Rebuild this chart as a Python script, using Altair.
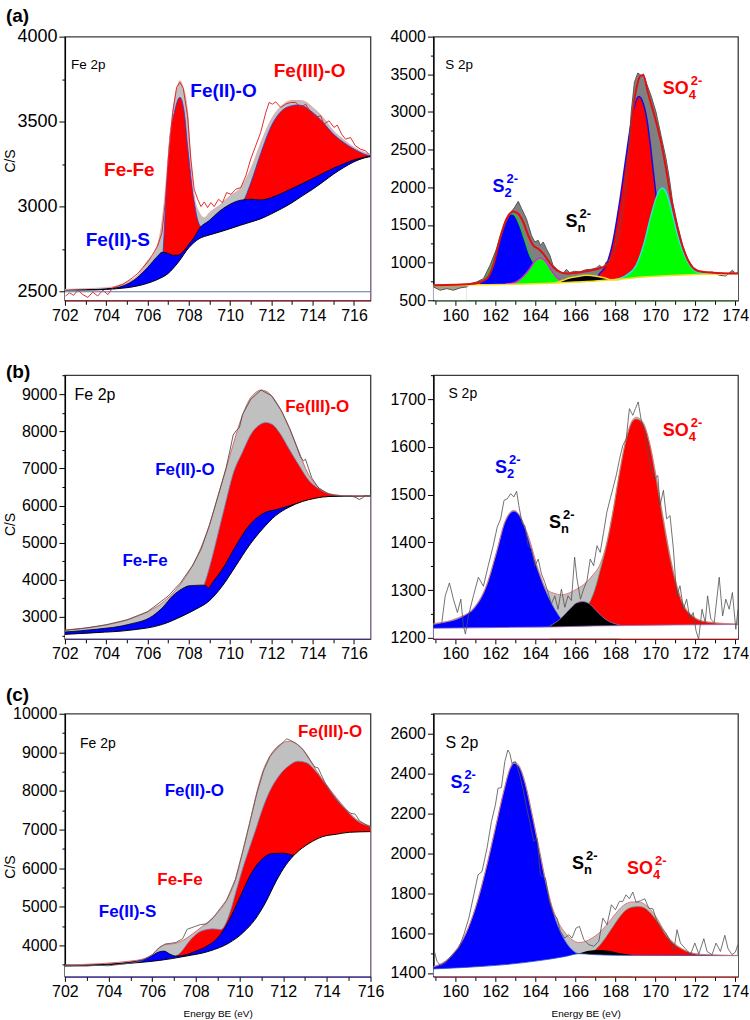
import altair as alt
import pandas as pd

FONT = "Liberation Sans"
RED = "#ff0000"
BLUE = "#0000ff"
GREEN = "#00ff00"
LIGHT_GREY = "#c0c0c0"
DARK_GREY = "#808080"

# ---------------------------------------------------------------- (a) Fe 2p
A_FE_RAW = [(702.03, 2475), (702.23, 2494), (702.42, 2479), (702.63, 2510), (702.87, 2483),
            (703.11, 2467), (703.35, 2498), (703.59, 2475), (703.84, 2510), (704.08, 2483),
            (704.32, 2524), (704.56, 2534), (704.8, 2543), (705.04, 2563), (705.28, 2583),
            (705.53, 2608), (705.77, 2642), (706.01, 2675), (706.25, 2720), (706.49, 2769),
            (706.7, 2848), (706.86, 3024), (707.02, 3299), (707.22, 3554), (707.41, 3702),
            (707.57, 3731), (707.73, 3696), (707.94, 3535), (708.1, 3280), (708.26, 3103),
            (708.43, 3044), (708.59, 3001), (708.75, 3028), (708.91, 2995), (709.07, 3024),
            (709.23, 3001), (709.44, 3044), (709.63, 3024), (709.83, 3083), (710.04, 3073),
            (710.28, 3103), (710.52, 3113), (710.76, 3181), (711.0, 3280), (711.24, 3358),
            (711.48, 3437), (711.73, 3554), (711.89, 3613), (712.05, 3603), (712.21, 3617),
            (712.45, 3584), (712.69, 3603), (712.93, 3613), (713.18, 3613), (713.42, 3584),
            (713.66, 3603), (713.9, 3554), (714.14, 3525), (714.38, 3535), (714.54, 3486),
            (714.79, 3505), (715.03, 3466), (715.19, 3480), (715.4, 3427), (715.59, 3397),
            (715.83, 3407), (716.07, 3358), (716.32, 3338), (716.56, 3329), (716.72, 3309)]
A_FE_ENV = [(702.0, 2514), (703.0, 2518), (704.0, 2524), (704.5, 2534), (705.0, 2557),
            (705.5, 2593), (705.93, 2671), (706.41, 2750), (706.65, 2867), (706.81, 3024),
            (706.98, 3260), (707.22, 3554), (707.46, 3711), (707.57, 3741), (707.7, 3711),
            (707.94, 3554), (708.1, 3260), (708.26, 3064), (708.51, 2965), (708.75, 2935),
            (709.0, 2965), (709.5, 3010), (710.0, 3064), (710.5, 3110), (711.0, 3221),
            (711.5, 3378), (712.0, 3515), (712.5, 3594), (713.0, 3625), (713.5, 3623),
            (714.0, 3584), (714.5, 3525), (715.0, 3446), (715.5, 3394), (716.0, 3348),
            (716.5, 3319), (716.8, 3307)]
A_FE_RED = [(702.0, 2505), (706.0, 2540), (706.6, 2600), (706.75, 2730), (706.9, 3064),
            (707.06, 3378), (707.3, 3554), (707.57, 3643), (707.78, 3554), (707.94, 3358),
            (708.18, 3103), (708.42, 2926), (708.6, 2880), (709.0, 2860), (709.5, 2880),
            (710.0, 2930), (710.5, 3000), (710.75, 3060), (711.0, 3140), (711.5, 3319),
            (712.0, 3476), (712.5, 3564), (713.0, 3594), (713.25, 3598), (713.5, 3594),
            (714.0, 3554), (714.5, 3496), (715.0, 3427), (715.5, 3378), (716.0, 3339),
            (716.5, 3309), (716.8, 3299)]
A_FE_BLUE = [(702.0, 2512), (703.0, 2513), (704.0, 2518), (704.5, 2524), (705.0, 2544),
             (705.5, 2583), (706.0, 2642), (706.5, 2711), (706.7, 2732), (707.0, 2726),
             (707.25, 2714), (707.5, 2716), (707.75, 2740), (708.0, 2779), (708.25, 2818),
             (708.5, 2870), (709.0, 2920), (709.5, 2975), (710.0, 3015), (710.5, 3038),
             (711.0, 3044), (711.5, 3040), (712.0, 3054), (712.5, 3079), (713.0, 3107),
             (713.5, 3136), (714.0, 3166), (714.5, 3197), (715.0, 3226), (715.5, 3252),
             (716.0, 3276), (716.5, 3291), (716.8, 3299)]
A_FE_BG = [(702.0, 2510), (703.0, 2510), (704.0, 2514), (705.0, 2524), (705.5, 2534),
           (706.0, 2550), (706.5, 2573), (707.0, 2608), (707.5, 2675), (708.0, 2759),
           (708.5, 2812), (709.0, 2834), (709.5, 2852), (710.0, 2871), (710.5, 2891),
           (711.0, 2910), (711.5, 2930), (712.0, 2958), (712.5, 2989), (713.0, 3024),
           (713.5, 3064), (714.0, 3103), (714.5, 3146), (715.0, 3191), (715.5, 3230),
           (716.0, 3264), (716.5, 3287), (716.8, 3295)]
A_FE_REF = [2500]
A_FE_LABELS = [("Fe(III)-O", 713.85, 3760, RED), ("Fe(II)-O", 709.68, 3643, BLUE),
               ("Fe-Fe", 705.12, 3181, RED), ("Fe(II)-S", 704.56, 2769, BLUE)]

# ---------------------------------------------------------------- (a) S 2p
A_S_RAW = [(158.9, 677), (159.24, 633), (159.57, 655), (159.9, 633), (160.23, 664),
           (160.56, 677), (160.73, 721), (161.06, 743), (161.4, 787), (161.73, 964),
           (162.06, 1185), (162.39, 1450), (162.72, 1649), (162.97, 1737), (163.14, 1813),
           (163.31, 1716), (163.55, 1583), (163.8, 1362), (163.97, 1274), (164.14, 1296),
           (164.25, 1229), (164.39, 1274), (164.55, 1185), (164.72, 1097), (164.88, 964),
           (165.13, 898), (165.38, 854), (165.55, 911), (165.71, 867), (165.96, 885),
           (166.21, 876), (166.54, 907), (166.79, 911), (167.04, 929), (167.21, 964),
           (167.38, 920), (167.54, 1008), (167.87, 1075), (168.04, 1273), (168.37, 1715),
           (168.62, 2334), (168.79, 2997), (168.95, 3395), (169.12, 3518), (169.29, 3483),
           (169.4, 3505), (169.53, 3395), (169.78, 3218), (170.03, 2997), (170.28, 2688),
           (170.53, 2379), (170.7, 2113), (170.86, 1804), (171.11, 1494), (171.36, 1229),
           (171.61, 1053), (171.86, 942), (172.19, 885), (172.52, 867), (172.86, 876),
           (173.19, 832), (173.52, 823), (173.85, 898), (174.02, 854), (174.13, 876)]
A_S_ENV = [(158.9, 701), (160.9, 721), (161.56, 787), (161.89, 964), (162.23, 1318),
           (162.56, 1583), (162.89, 1680), (163.14, 1649), (163.39, 1539), (163.64, 1362),
           (163.89, 1229), (164.14, 1185), (164.39, 1119), (164.63, 1030), (164.88, 942),
           (165.22, 876), (165.55, 854), (166.05, 867), (166.54, 885), (167.04, 911),
           (167.54, 964), (168.04, 1185), (168.37, 1627), (168.62, 2201), (168.87, 2997),
           (169.12, 3395), (169.29, 3483), (169.4, 3483), (169.62, 3262), (169.95, 2953),
           (170.28, 2599), (170.53, 2246), (170.78, 1848), (171.11, 1450), (171.45, 1141),
           (171.78, 964), (172.19, 885), (172.86, 867), (174.13, 856)]
A_S_S2 = [(158.9, 700), (160.9, 709), (161.56, 809), (161.89, 1008), (162.23, 1340),
          (162.56, 1583), (162.81, 1649), (162.97, 1627), (163.22, 1494), (163.47, 1296),
          (163.72, 1097), (163.89, 1008), (164.22, 876), (164.63, 787), (165.22, 743),
          (166.0, 742)]
A_S_S2B = [(162.5, 713), (163.0, 740), (163.4, 820), (163.72, 920), (163.97, 1017),
           (164.22, 1061), (164.47, 1030), (164.72, 929), (165.05, 809), (165.47, 743),
           (166.0, 742)]
A_S_SO4 = [(166.5, 750), (167.0, 770), (167.21, 854), (167.54, 964), (167.87, 1273),
           (168.21, 1804), (168.54, 2422), (168.79, 2864), (169.04, 3151), (169.17, 3204),
           (169.37, 3129), (169.57, 2908), (169.73, 2599), (169.9, 2201), (170.07, 1804),
           (170.23, 1450), (170.45, 1185), (170.7, 1008), (171.03, 885), (171.53, 832),
           (172.0, 840)]
A_S_SO4B = [(168.0, 776), (168.54, 832), (169.04, 964), (169.45, 1273), (169.78, 1627),
            (170.12, 1914), (170.33, 1989), (170.53, 1936), (170.78, 1715), (171.11, 1362),
            (171.45, 1097), (171.78, 942), (172.19, 867), (172.86, 848), (174.13, 855)]
A_S_SN = [(165.0, 728), (165.38, 765), (165.7, 795), (166.05, 812), (166.54, 831),
          (167.04, 820), (167.54, 790), (167.87, 768), (168.2, 770)]
A_S_BASE = [(158.9, 700), (161.0, 706), (163.0, 712), (164.0, 718), (165.0, 728),
            (166.0, 742), (167.0, 755), (168.0, 775), (168.5, 787), (169.0, 800),
            (170.0, 818), (171.0, 833), (172.0, 843), (173.0, 850), (174.13, 855)]
A_S_LOW_END = 160.56   # raw counts fall under the baseline left of this energy

# ---------------------------------------------------------------- (b) Fe 2p
B_FE_RAW = [(702.0, 2640), (703.0, 2700), (704.0, 2790), (705.0, 2920), (706.0, 3140),
            (707.0, 3560), (707.6, 3920), (708.2, 4400), (708.6, 4830), (709.0, 5470),
            (709.5, 6420), (709.8, 7000), (710.0, 7500), (710.15, 7900), (710.3, 8020),
            (710.45, 8100), (710.6, 8450), (711.0, 8860), (711.5, 9110), (712.0, 8960),
            (712.5, 8540), (712.9, 8060), (713.2, 7620), (713.4, 7320), (713.55, 7200),
            (713.65, 7250), (713.8, 7000), (713.95, 6750), (714.1, 6620), (714.3, 6470),
            (714.5, 6400), (714.8, 6300), (715.1, 6270), (715.5, 6255), (715.9, 6250),
            (716.1, 6215), (716.25, 6160), (716.4, 6200), (716.55, 6270), (716.8, 6250)]
B_FE_ENV = [(702.0, 2649), (703.51, 2739), (705.12, 2937), (706.09, 3162), (706.73, 3387),
            (707.54, 3838), (708.34, 4559), (708.99, 5460), (709.47, 6360), (709.95, 7261),
            (710.28, 7892), (710.6, 8432), (710.92, 8838), (711.24, 9045), (711.48, 9108),
            (711.73, 9081), (712.05, 8928), (712.37, 8658), (712.69, 8297), (713.01, 7892),
            (713.34, 7441), (713.66, 6991), (713.98, 6676), (714.46, 6405), (714.95, 6300),
            (715.59, 6262), (716.8, 6252)]
B_FE_RED = [(702.0, 2500), (708.0, 3000), (708.6, 3700), (708.75, 3883), (709.15, 4649),
            (709.47, 5369), (709.79, 6090), (710.12, 6811), (710.6, 7441), (711.08, 7982),
            (711.4, 8162), (711.73, 8234), (712.05, 8180), (712.37, 7982), (712.85, 7532),
            (713.34, 7081), (713.82, 6676), (714.3, 6450), (714.79, 6315), (715.59, 6261),
            (716.8, 6252)]
B_FE_BLUE = [(702.0, 2595), (703.51, 2667), (705.12, 2802), (706.25, 3027), (706.73, 3252),
             (707.22, 3567), (707.7, 3766), (708.02, 3838), (708.67, 3856), (708.85, 3830),
             (708.95, 3780), (709.15, 3928), (709.63, 4288), (710.28, 4919), (710.92, 5459),
             (711.57, 5775), (712.37, 5910), (713.18, 6045), (714.14, 6180), (715.11, 6234),
             (716.8, 6252)]
B_FE_BG = [(702.0, 2530), (703.51, 2577), (705.12, 2640), (706.73, 2800), (707.7, 3027),
           (708.34, 3207), (708.99, 3432), (709.63, 3838), (710.28, 4378), (710.92, 4919),
           (711.57, 5369), (712.21, 5730), (712.85, 5955), (713.5, 6108), (714.14, 6198),
           (714.79, 6243), (715.5, 6250), (716.8, 6252)]
B_FE_LABELS = [("Fe(III)-O", 714.22, 8523, RED), ("Fe(II)-O", 707.81, 6811, BLUE),
               ("Fe-Fe", 705.88, 4378, BLUE)]

# ---------------------------------------------------------------- (b) S 2p
B_S_RAW = [(159.32, 1232), (159.49, 1288), (159.7, 1315), (159.9, 1281), (160.1, 1253),
           (160.27, 1281), (160.4, 1225), (160.5, 1208), (160.65, 1246), (160.9, 1288),
           (161.15, 1327), (161.4, 1308), (161.64, 1351), (161.89, 1393), (162.09, 1432),
           (162.26, 1449), (162.43, 1488), (162.59, 1491), (162.76, 1502), (162.92, 1495),
           (163.06, 1507), (163.17, 1477), (163.34, 1439), (163.47, 1435), (163.64, 1393),
           (163.8, 1386), (163.97, 1351), (164.14, 1365), (164.3, 1334), (164.47, 1316),
           (164.63, 1295), (164.8, 1271), (164.97, 1288), (165.13, 1260), (165.3, 1302),
           (165.47, 1264), (165.63, 1288), (165.8, 1278), (165.96, 1369), (166.08, 1323),
           (166.25, 1281), (166.41, 1302), (166.58, 1320), (166.74, 1365), (166.91, 1351),
           (167.08, 1393), (167.24, 1379), (167.41, 1421), (167.57, 1463), (167.74, 1491),
           (167.87, 1512), (168.04, 1540), (168.21, 1575), (168.37, 1603), (168.54, 1617),
           (168.7, 1680), (168.87, 1666), (169.0, 1680), (169.14, 1694), (169.29, 1656),
           (169.45, 1631), (169.62, 1589), (169.78, 1554), (169.95, 1533), (170.12, 1540),
           (170.23, 1477), (170.4, 1509), (170.56, 1449), (170.73, 1456), (170.9, 1386),
           (171.06, 1288), (171.23, 1309), (171.4, 1260), (171.56, 1281), (171.73, 1239),
           (171.89, 1253), (172.03, 1215), (172.16, 1197), (172.33, 1260), (172.49, 1232),
           (172.61, 1288), (172.77, 1239), (172.94, 1232), (173.19, 1327), (173.36, 1246),
           (173.52, 1281), (173.69, 1260), (173.85, 1295), (174.02, 1218), (174.13, 1260)]
B_S_ENV = [(158.9, 1230), (160.07, 1241), (160.9, 1262), (161.56, 1311), (162.06, 1381),
           (162.48, 1444), (162.92, 1467), (163.55, 1424), (164.22, 1334), (164.55, 1302),
           (165.05, 1292), (165.3, 1290), (165.55, 1292), (166.05, 1302), (166.54, 1316),
           (166.88, 1332), (167.21, 1352), (167.54, 1395), (167.87, 1464), (168.21, 1548),
           (168.54, 1618), (168.87, 1657), (169.04, 1662), (169.37, 1652), (169.7, 1610),
           (170.03, 1540), (170.37, 1456), (170.7, 1379), (171.03, 1316), (171.36, 1274),
           (171.86, 1246), (172.52, 1234), (174.13, 1229)]
B_S_S2 = [(158.9, 1228), (159.5, 1233), (160.07, 1239), (160.5, 1248), (160.9, 1260),
          (161.56, 1309), (162.06, 1379), (162.48, 1442), (162.72, 1460), (162.92, 1465),
          (163.22, 1456), (163.55, 1421), (163.89, 1372), (164.22, 1330), (164.55, 1295),
          (164.97, 1260), (165.38, 1236), (165.88, 1224), (166.5, 1223)]
B_S_SO4 = [(165.5, 1224), (166.0, 1235), (166.4, 1258), (166.79, 1281), (167.04, 1310),
           (167.21, 1337), (167.54, 1390), (167.87, 1460), (168.21, 1545), (168.54, 1615),
           (168.87, 1654), (169.04, 1658), (169.37, 1649), (169.7, 1607), (170.03, 1533),
           (170.37, 1449), (170.7, 1372), (171.03, 1313), (171.36, 1271), (171.86, 1245),
           (172.52, 1233), (174.13, 1228)]
B_S_SN = [(164.72, 1225), (165.22, 1239), (165.71, 1260), (166.05, 1273), (166.38, 1276),
          (166.71, 1271), (167.04, 1257), (167.54, 1238), (168.21, 1227)]
B_S_BASE = [(158.9, 1220), (161.0, 1221), (163.0, 1222), (165.0, 1223), (167.0, 1225),
            (169.0, 1226), (171.0, 1227), (174.13, 1228)]

# ---------------------------------------------------------------- (c) Fe 2p
C_FE_RAW = [(702.0, 3490), (702.5, 3480), (703.0, 3470), (703.5, 3485), (704.0, 3475),
            (704.5, 3510), (705.0, 3540), (705.5, 3600), (706.0, 3760), (706.3, 3940),
            (706.6, 4040), (706.9, 4060), (707.1, 4080), (707.4, 4180), (707.6, 4420),
            (707.9, 4480), (708.2, 4540), (708.5, 4560), (708.8, 4720), (709.1, 4950),
            (709.4, 5170), (709.8, 5700), (710.15, 6450), (710.45, 7150), (710.8, 7950),
            (711.1, 8520), (711.4, 8900), (711.7, 9100), (712.0, 9260), (712.15, 9350),
            (712.3, 9320), (712.6, 9230), (712.9, 9080), (713.2, 8820), (713.45, 8620),
            (713.6, 8600), (713.9, 8230), (714.2, 7950), (714.5, 7720), (714.8, 7540),
            (715.1, 7420), (715.3, 7400), (715.5, 7230), (715.8, 7120), (716.0, 7070)]
C_FE_ENV = [(702.0, 3493), (705.26, 3613), (706.02, 3768), (706.33, 3940), (706.63, 4026),
            (706.94, 4043), (707.4, 4129), (707.85, 4301), (708.31, 4499), (708.92, 4800),
            (709.38, 5143), (709.84, 5745), (710.15, 6433), (710.45, 7120), (710.76, 7894),
            (711.06, 8496), (711.37, 8883), (711.67, 9115), (711.98, 9244), (712.29, 9287),
            (712.59, 9226), (713.05, 8968), (713.51, 8539), (713.97, 8170), (714.43, 7830),
            (714.88, 7530), (715.34, 7270), (716.0, 7090)]
C_FE_RED = [(702.0, 3450), (706.8, 3640), (707.0, 3700), (707.24, 3785), (707.7, 4112),
            (708.0, 4284), (708.31, 4387), (708.77, 4430), (709.15, 4413), (709.53, 4800),
            (709.84, 5401), (710.15, 6003), (710.45, 6519), (710.76, 7034), (711.06, 7550),
            (711.37, 7980), (711.83, 8410), (712.29, 8668), (712.67, 8771), (713.05, 8736),
            (713.51, 8496), (713.97, 8152), (714.43, 7808), (714.88, 7507), (715.34, 7249),
            (716.0, 7077)]
C_FE_BLUE = [(702.0, 3493), (703.7, 3510), (705.26, 3596), (705.87, 3699), (706.33, 3837),
             (706.55, 3854), (706.78, 3785), (707.08, 3725), (707.5, 3751), (708.0, 3854),
             (708.5, 3983), (709.0, 4198), (709.5, 4627), (710.0, 5229), (710.5, 5831),
             (711.0, 6218), (711.5, 6381), (712.0, 6390), (712.5, 6338), (713.0, 6364),
             (713.5, 6476), (714.0, 6605), (714.5, 6708), (715.0, 6811), (715.5, 6880),
             (716.0, 6931)]
C_FE_BG = [(702.0, 3467), (703.73, 3493), (705.26, 3553), (706.33, 3613), (707.55, 3725),
           (708.62, 3854), (709.53, 4069), (710.15, 4327), (710.76, 4713), (711.22, 5143),
           (711.67, 5659), (712.13, 6089), (712.59, 6390), (713.2, 6648), (713.81, 6819),
           (714.43, 6880), (715.04, 6931), (716.0, 6948)]
C_FE_LABELS = [("Fe(III)-O", 714.15, 9398, RED), ("Fe(II)-O", 707.93, 7868, BLUE),
               ("Fe-Fe", 707.27, 5556, RED), ("Fe(II)-S", 704.87, 4731, BLUE)]

# ---------------------------------------------------------------- (c) S 2p
C_S_RAW = [(158.95, 1508), (159.08, 1458), (159.25, 1438), (159.5, 1450), (159.83, 1492),
           (160.17, 1525), (160.42, 1592), (160.67, 1675), (160.92, 1792), (161.13, 1892),
           (161.33, 1909), (161.58, 2026), (161.8, 2159), (162.0, 2243), (162.13, 2326),
           (162.3, 2330), (162.47, 2460), (162.62, 2518), (162.72, 2502), (162.83, 2451),
           (163.0, 2460), (163.17, 2410), (163.37, 2326), (163.53, 2243), (163.75, 2143),
           (163.92, 2059), (164.08, 2076), (164.25, 1892), (164.5, 1876), (164.7, 1759),
           (164.92, 1692), (165.08, 1675), (165.25, 1609), (165.47, 1575), (165.67, 1592),
           (165.83, 1575), (166.03, 1625), (166.2, 1634), (166.42, 1567), (166.67, 1542),
           (166.92, 1534), (167.17, 1559), (167.37, 1675), (167.58, 1642), (167.8, 1742),
           (168.0, 1717), (168.2, 1759), (168.37, 1759), (168.53, 1792), (168.7, 1772),
           (168.87, 1806), (169.03, 1755), (169.25, 1762), (169.47, 1772), (169.67, 1725),
           (169.87, 1722), (170.08, 1659), (170.3, 1625), (170.5, 1605), (170.72, 1562),
           (170.92, 1512), (171.08, 1617), (171.25, 1550), (171.5, 1522), (171.75, 1492),
           (171.97, 1550), (172.17, 1495), (172.42, 1572), (172.58, 1508), (172.83, 1492),
           (173.03, 1550), (173.25, 1508), (173.47, 1589), (173.63, 1522), (173.83, 1492),
           (174.0, 1505), (174.12, 1542)]
C_S_ENV = [(158.9, 1432), (159.5, 1460), (160.0, 1510), (160.5, 1594), (161.0, 1727),
           (161.5, 1911), (162.0, 2128), (162.42, 2314), (162.75, 2432), (162.92, 2458),
           (163.17, 2441), (163.5, 2348), (163.83, 2198), (164.17, 2032), (164.5, 1868),
           (164.83, 1734), (165.17, 1650), (165.5, 1600), (165.83, 1567), (166.17, 1553),
           (166.5, 1558), (166.83, 1575), (167.17, 1600), (167.5, 1634), (167.83, 1675),
           (168.17, 1717), (168.5, 1746), (168.83, 1756), (169.17, 1756), (169.5, 1742),
           (169.83, 1709), (170.17, 1659), (170.5, 1600), (170.83, 1559), (171.33, 1522),
           (171.83, 1500), (172.5, 1492), (174.13, 1488)]
C_S_S2 = [(158.9, 1430), (159.5, 1458), (160.0, 1508), (160.5, 1592), (161.0, 1725),
          (161.5, 1909), (162.0, 2126), (162.42, 2310), (162.75, 2426), (162.92, 2451),
          (163.17, 2435), (163.5, 2343), (163.83, 2193), (164.17, 2026), (164.5, 1859),
          (164.83, 1725), (165.17, 1625), (165.5, 1559), (165.83, 1517), (166.17, 1497),
          (166.5, 1495)]
C_S_SO4 = [(166.3, 1490), (166.67, 1500), (167.0, 1517), (167.5, 1575), (167.83, 1625),
           (168.17, 1675), (168.5, 1713), (168.83, 1730), (169.17, 1733), (169.5, 1723),
           (169.83, 1692), (170.17, 1646), (170.5, 1592), (170.83, 1554), (171.33, 1519),
           (171.83, 1499), (172.5, 1491), (174.13, 1487)]
C_S_SN = [(166.0, 1493), (166.17, 1498), (166.67, 1512), (167.17, 1515), (167.67, 1512),
          (168.17, 1500), (168.83, 1490)]
C_S_BASE = [(158.9, 1420), (160.5, 1428), (162.5, 1442), (164.2, 1462), (165.5, 1483),
            (166.2, 1497), (166.8, 1493), (168.0, 1489), (170.0, 1488), (174.13, 1487)]

# axis ticks (every integer eV; labels on the even ones)
FE_TICKS = list(range(702, 717))
S_TICKS = list(range(159, 175))

# bold Arial advance widths (em) used to place sub/superscripts
BOLD_W = {"S": 0.667, "O": 0.778}


def frame(points):
    return pd.DataFrame(points, columns=["x", "y"])


class Panel:
    def __init__(self, xdom, ydom, xmajor, yticks, ymajor, width, height,
                 xticks, ylab_size=16, ytitle_y=None, xtitle=False, xcolor="#000000"):
        xkw = dict(values=xticks, format="d", labelFlush=False, labelOverlap=False,
                   labelExpr=f"datum.value % {xmajor} == 0 ? datum.label : ''",
                   tickSize={"condition": {"test": f"datum.value % {xmajor} == 0",
                                           "value": 5}, "value": 4},
                   labelFontSize=16, labelPadding=2, domainColor=xcolor, domainWidth=1.5)
        if xtitle:
            xkw.update(title="Energy BE (eV)", titleFontSize=10,
                       titleFontWeight="normal", titlePadding=9)
        else:
            xkw.update(title=None)
        ykw = dict(values=yticks, format="d", labelFlush=False, labelOverlap=False,
                   labelExpr=f"datum.value % {ymajor} == 0 ? datum.label : ''",
                   tickSize={"condition": {"test": f"datum.value % {ymajor} == 0",
                                           "value": 6}, "value": 3},
                   labelFontSize=ylab_size, labelPadding=2)
        if ytitle_y is not None:
            ykw.update(title="C/S", titleFontSize=14, titleFontWeight="normal",
                       titleX=-54, titleY=ytitle_y, titleAngle=270,
                       titleAlign="center", titleBaseline="middle")
        else:
            ykw.update(title=None)
        self.X = alt.X("x:Q", scale=alt.Scale(domain=xdom, nice=False, zero=False),
                       axis=alt.Axis(**xkw))
        self.Y = alt.Y("y:Q", scale=alt.Scale(domain=ydom, nice=False, zero=False),
                       axis=alt.Axis(**ykw))
        self.ymin = ydom[0]
        self.width = width
        self.height = height
        self.layers = []

    def fill(self, points, color, interpolate="monotone"):
        self.layers.append(
            alt.Chart(frame(points)).mark_area(color=color, interpolate=interpolate,
                                               clip=True, opacity=1)
            .encode(x=self.X, y=self.Y, y2=alt.datum(self.ymin)))

    def line(self, points, color, width=1.0, interpolate="monotone"):
        self.layers.append(
            alt.Chart(frame(points)).mark_line(color=color, strokeWidth=width,
                                               interpolate=interpolate, clip=True)
            .encode(x=self.X, y=self.Y))

    def hline(self, values, color, width=1.0):
        self.layers.append(
            alt.Chart(pd.DataFrame({"y": values})).mark_rule(color=color, strokeWidth=width)
            .encode(y=self.Y))

    def text(self, x, y, s, color, size, weight="bold", align="center", dx=0, dy=0):
        self.layers.append(
            alt.Chart(pd.DataFrame({"x": [x], "y": [y]}))
            .mark_text(text=s, color=color, font=FONT, fontSize=size, fontWeight=weight,
                       align=align, baseline="alphabetic", dx=dx, dy=dy)
            .encode(x=self.X, y=self.Y))

    def species(self, x, y, main, sub, sup, color, size=18):
        w = sum(BOLD_W.get(c, 0.6) for c in main) * size
        small = round(size * 0.74)
        self.text(x, y, main, color, size, align="left")
        self.text(x, y, sub, color, small, align="left", dx=w, dy=5)
        self.text(x, y, sup, color, small, align="left", dx=w + 2, dy=-9)

    def letter(self, s, dy):
        self.layers.append(
            alt.Chart(pd.DataFrame({"t": [s]}))
            .mark_text(text=s, font=FONT, fontSize=19, fontWeight="bold", align="left",
                       baseline="alphabetic", color="#000000")
            .encode(x=alt.value(-59), y=alt.value(dy)))

    def chart(self):
        return alt.layer(*self.layers).properties(width=self.width, height=self.height)


def fe_panel(p, raw, env, red, blue, bg, labels, name_pos, name_size, lab_size,
             raw_color, env_color, red_edge):
    p.fill(env, LIGHT_GREY)
    p.fill(red, RED)
    p.line(red, red_edge, 0.8)
    p.fill(blue, BLUE)
    p.line(blue, "#000000", 0.8)
    p.fill(bg, "#ffffff")
    p.line(bg, "#000000", 1.0)
    p.line(env, env_color, 1.0)
    p.line(raw, raw_color, 0.9, interpolate="linear")
    for s, x, y, c in labels:
        p.text(x, y, s, c, lab_size)
    p.text(name_pos[0], name_pos[1], "Fe 2p", "#000000", name_size,
           weight="normal", align="left")


# ------------------------------------------------------------------ panels
a_fe = Panel([702, 716.8], [2450, 4000], 2, list(range(2500, 4001, 250)), 500,
             306, 264, FE_TICKS, ylab_size=18, ytitle_y=124, xcolor="#7a1c1c")
fe_panel(a_fe, A_FE_RAW, A_FE_ENV, A_FE_RED, A_FE_BLUE, A_FE_BG, A_FE_LABELS,
         (702.3, 3808), 13.5, 19, "#e01818", "#e8a8a8", "#2040e0")
a_fe.hline(A_FE_REF, "#6070a0", 1.0)
a_fe.letter("(a)", -15)

a_s = Panel([158.9, 174.13], [500, 4000], 2, list(range(500, 4001, 250)), 500,
            305, 264, S_TICKS, xcolor="#2d5e2d")
a_s.fill(A_S_RAW, DARK_GREY, interpolate="linear")
a_s.fill(A_S_S2, BLUE)
a_s.line(A_S_S2, "#22c022", 1.5)
a_s.fill(A_S_S2B, GREEN)
a_s.line(A_S_S2B, "#e020e0", 1.5)
a_s.fill(A_S_SO4, RED)
a_s.line(A_S_SO4, "#1010e0", 1.5)
a_s.fill(A_S_SO4B, GREEN)
a_s.line(A_S_SO4B, "#20e8e8", 1.5)
a_s.fill(A_S_SN, "#000000")
a_s.fill(A_S_BASE, "#ffffff")
a_s.fill([p for p in A_S_BASE if p[0] <= A_S_LOW_END] + [(A_S_LOW_END, 706)], "#aaa27a",
         interpolate="linear")
a_s.fill([p for p in A_S_RAW if p[0] <= A_S_LOW_END], "#ffffff", interpolate="linear")
a_s.line(A_S_RAW, "#555555", 1.0, interpolate="linear")
a_s.line(A_S_SN, "#f0e020", 1.5)
a_s.line(A_S_BASE, "#f0e020", 1.5)
a_s.line(A_S_ENV, "#e01010", 2.0)
a_s.text(159.49, 3571, "S 2p", "#000000", 13.5, weight="normal", align="left")
a_s.species(161.86, 1936, "S", "2", "2-", BLUE)
a_s.species(165.51, 1472, "S", "n", "2-", "#000000")
a_s.species(170.37, 3240, "SO", "4", "2-", RED)

b_fe = Panel([702, 716.8], [2410, 9510], 2, list(range(2500, 9501, 500)), 1000,
             306, 264, FE_TICKS, ytitle_y=149, xcolor="#3a3a5a")
fe_panel(b_fe, B_FE_RAW, B_FE_ENV, B_FE_RED, B_FE_BLUE, B_FE_BG, B_FE_LABELS,
         (702.47, 8838), 16, 17, "#505050", "#e06666", "#6f86c0")
b_fe.letter("(b)", 3)

b_s = Panel([158.9, 174.13], [1198, 1750], 2, list(range(1200, 1751, 50)), 100,
            305, 264, S_TICKS, xcolor="#8b1a1a")
b_s.fill(B_S_ENV, LIGHT_GREY)
b_s.fill(B_S_S2, BLUE)
b_s.line(B_S_S2, "#7080c8", 0.8)
b_s.fill(B_S_SO4, RED)
b_s.line(B_S_SO4, "#6b8e6b", 0.8)
b_s.fill(B_S_SN, "#000000")
b_s.line(B_S_SN, "#9070c0", 0.8)
b_s.fill(B_S_BASE, "#ffffff")
b_s.line(B_S_BASE, "#9070c0", 0.8)
b_s.line(B_S_ENV, "#e07070", 0.9)
b_s.line(B_S_RAW, "#505050", 0.8, interpolate="linear")
b_s.text(159.65, 1703, "S 2p", "#000000", 14, weight="normal", align="left")
b_s.species(161.98, 1546, "S", "2", "2-", BLUE)
b_s.species(164.68, 1430, "S", "n", "2-", "#000000")
b_s.species(170.37, 1623, "SO", "4", "2-", RED)

c_fe = Panel([702, 716], [3200, 10000], 2, list(range(3500, 10001, 500)), 1000,
             306, 263, FE_TICKS, ytitle_y=153, xtitle=True, xcolor="#1a237e")
fe_panel(c_fe, C_FE_RAW, C_FE_ENV, C_FE_RED, C_FE_BLUE, C_FE_BG, C_FE_LABELS,
         (702.69, 9115), 14, 17, "#606060", "#e06666", "#6f86c0")
c_fe.letter("(c)", -13)

c_s = Panel([158.9, 174.13], [1383, 2700], 2, list(range(1400, 2701, 100)), 200,
            305, 263, S_TICKS, xtitle=True, xcolor="#8b1a1a")
c_s.fill(C_S_ENV, LIGHT_GREY)
c_s.fill(C_S_S2, BLUE)
c_s.line(C_S_S2, "#7080c8", 0.8)
c_s.fill(C_S_SO4, RED)
c_s.line(C_S_SO4, "#6b8e6b", 0.8)
c_s.fill(C_S_SN, "#000000")
c_s.fill(C_S_BASE, "#ffffff")
c_s.line(C_S_BASE, "#3050c0", 0.8)
c_s.line(C_S_ENV, "#e07070", 0.9)
c_s.line(C_S_RAW, "#505050", 0.8, interpolate="linear")
c_s.text(159.5, 2530, "S 2p", "#000000", 16, weight="normal", align="left")
c_s.species(159.75, 2330, "S", "2", "2-", BLUE)
c_s.species(165.83, 1922, "S", "n", "2-", "#000000")
c_s.species(168.58, 1896, "SO", "4", "2-", RED)

chart = (
    alt.concat(a_fe.chart(), a_s.chart(), b_fe.chart(), b_s.chart(),
               c_fe.chart(), c_s.chart(), columns=2,
               spacing={"row": 75, "column": 63}, bounds="flush")
    .properties(padding={"left": 3, "top": 5, "right": 0, "bottom": 0},
                background="#ffffff")
    .configure_view(stroke="#3a3a3a", strokeWidth=1.3)
    .configure_axis(labelFont=FONT, titleFont=FONT, labelColor="#000000",
                    titleColor="#000000", grid=False, domainColor="#000000",
                    domainWidth=1.3, tickColor="#000000", tickWidth=1, zindex=1)
)

chart.save("out.html", embed_options={"renderer": "svg", "actions": False})
